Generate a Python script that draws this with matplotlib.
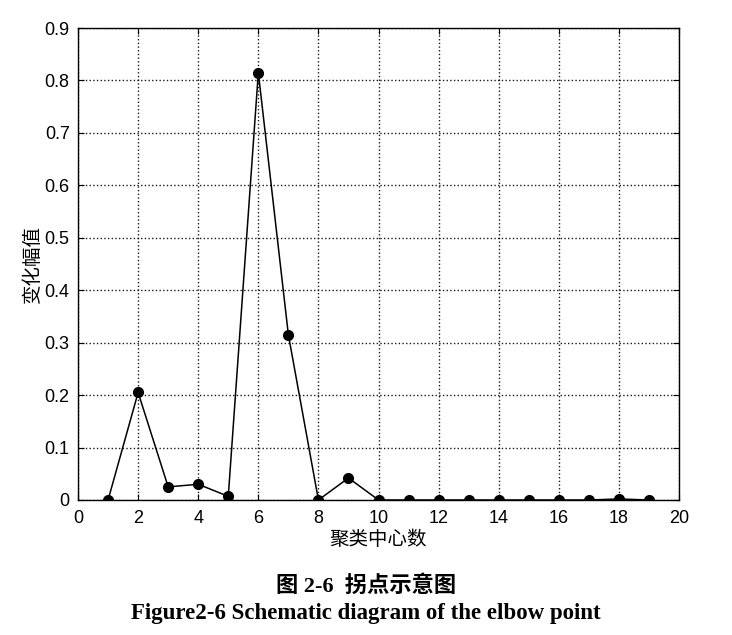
import matplotlib.pyplot as plt
import numpy as np

# cluster center counts and change amplitude
centers = np.arange(1, 20)
change = [0.0, 0.205, 0.025, 0.030, 0.007, 0.815, 0.315, 0.0, 0.042, 0.0,
          0.0, 0.0, 0.0, 0.0, 0.0, 0.0, 0.0, 0.002, 0.0]

xticks = np.arange(0, 21, 2)
yticks = np.round(np.arange(0, 0.91, 0.1), 1)
ytick_labels = ['0'] + ['%.1f' % v for v in yticks[1:]]

plt.rcParams['font.family'] = ['Liberation Sans', 'Noto Sans CJK SC']

fig = plt.figure(figsize=(7.32, 6.35), dpi=100)
ax = fig.add_axes([0.1066, 0.2126, 0.821, 0.7433])

ax.plot(centers, change, color='black', linewidth=1.1, marker='o',
        markersize=7, markerfacecolor='black', markeredgecolor='black')

ax.set_xlim(0, 20)
ax.set_ylim(0, 0.9)
ax.set_xticks(xticks)
ax.set_yticks(yticks)
ax.set_yticklabels(ytick_labels)
ax.tick_params(direction='in', length=4, labelsize=13, colors='black',
               top=True, right=True)
ax.tick_params(axis='x', pad=7)
ax.tick_params(axis='y', pad=6)
ax.grid(True, linestyle=':', color='black', linewidth=1.0, alpha=0.9)
for s in ax.spines.values():
    s.set_linewidth(1.0)

ax.set_xlabel('聚类中心数', fontsize=14, family=['Noto Sans CJK SC'], labelpad=2)
ax.set_ylabel('变化幅值', fontsize=14, family=['Noto Sans CJK SC'], labelpad=1)

fig.text(0.50, 1 - 586 / 635, '图 2-6  拐点示意图', ha='center', va='center',
         fontsize=16, fontweight='bold', family=['Liberation Serif', 'Noto Sans CJK SC'])
fig.text(0.50, 1 - 613 / 635, 'Figure2-6 Schematic diagram of the elbow point',
         ha='center', va='center', fontsize=16.5, fontweight='bold',
         family=['Liberation Serif'])

fig.savefig('out.png', dpi=100)
